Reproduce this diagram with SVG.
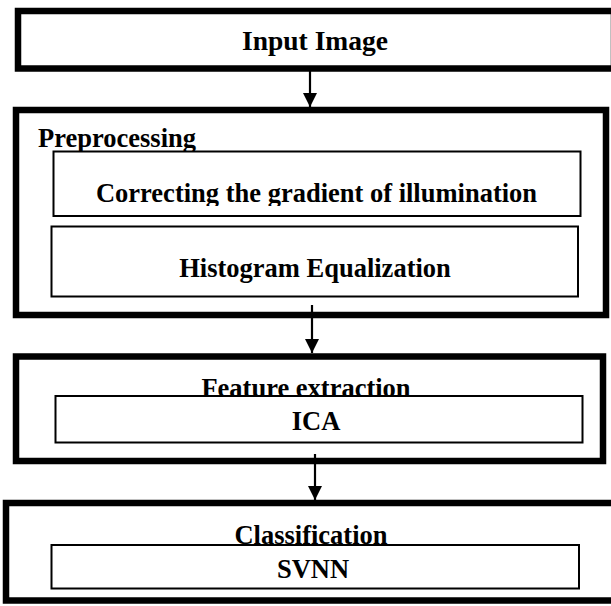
<svg xmlns="http://www.w3.org/2000/svg" width="611" height="606" viewBox="0 0 611 606">
<style>
.outer{fill:#fff;stroke:#000;stroke-width:6.5}
.inner{fill:#fff;stroke:#000;stroke-width:2}
.t{font-family:"Liberation Serif","Times New Roman",serif;font-weight:bold;font-size:26.5px;fill:#000}
.conn{stroke:#000;stroke-width:2.2;fill:none}
</style>
<defs>
<marker id="ah" markerUnits="userSpaceOnUse" markerWidth="16" markerHeight="14" refX="14" refY="7" orient="auto">
<path d="M0,0 L14,7 L0,14 Z" fill="#000"/>
</marker>
<clipPath id="c1"><rect x="53" y="150" width="528" height="56"/></clipPath>
</defs>
<g id="input-image">
<rect class="outer" x="18" y="11" width="596" height="57.5"/>
<text class="t" x="315" y="49.5" text-anchor="middle" style="font-size:27.5px">Input Image</text>
</g>
<g id="preprocessing">
<rect class="outer" x="16" y="110" width="590" height="205"/>
<text class="t" x="38" y="146.5">Preprocessing</text>
<g id="correcting">
<rect class="inner" x="53.5" y="151.5" width="527" height="64.5"/>
<text class="t" x="316.5" y="201.5" text-anchor="middle" clip-path="url(#c1)">Correcting the gradient of illumination</text>
</g>
<g id="histogram">
<rect class="inner" x="51.5" y="226.5" width="526.5" height="70"/>
<text class="t" x="315" y="277" text-anchor="middle">Histogram Equalization</text>
</g>
</g>
<g id="feature-extraction">
<rect class="outer" x="16" y="356.5" width="587" height="104.5"/>
<text class="t" x="306" y="396.5" text-anchor="middle">Feature extraction</text>
<g id="ica">
<rect class="inner" x="55.5" y="396" width="527" height="46.5"/>
<text class="t" x="316" y="430" text-anchor="middle">ICA</text>
</g>
</g>
<g id="classification">
<rect class="outer" x="6" y="503" width="610" height="97.5"/>
<text class="t" x="311" y="544" text-anchor="middle">Classification</text>
<g id="svnn">
<rect class="inner" x="51.5" y="545" width="527.5" height="43.5"/>
<text class="t" x="313" y="578" text-anchor="middle">SVNN</text>
</g>
</g>
<g id="connectors">
<line class="conn" x1="310" y1="70" x2="310" y2="107" marker-end="url(#ah)"/>
<line class="conn" x1="312" y1="305" x2="312" y2="353" marker-end="url(#ah)"/>
<line class="conn" x1="315" y1="454" x2="315" y2="500" marker-end="url(#ah)"/>
</g>
</svg>
